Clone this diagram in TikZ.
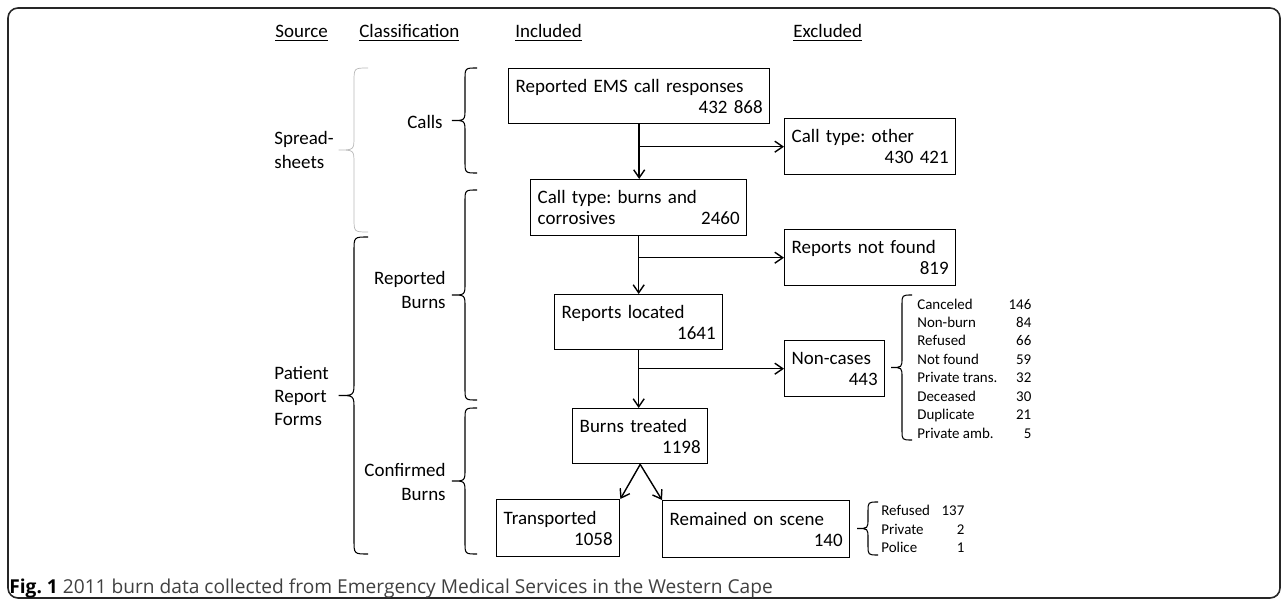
\documentclass[tikz,border=0pt]{standalone}
\usepackage{fontspec}
\setmainfont{Carlito}
\newfontfamily\capfont{Open Sans}
\usetikzlibrary{arrows.meta}
\frenchspacing

\newcommand{\lrow}[3]{\makebox[#1][l]{#2\hfill#3}}
% brace: [style] hook x, top y, bottom y, depth
\newcommand{\wbrace}[5][]{%
  \draw[brc,#1] (#2,#3) .. controls ({#2-#5},#3) .. ({#2-#5},{#3+#5})
    -- ({#2-#5},{(#3+#4)/2-#5}) .. controls ({#2-#5},{(#3+#4)/2}) .. ({#2-2.1*#5},{(#3+#4)/2})
    .. controls ({#2-#5},{(#3+#4)/2}) .. ({#2-#5},{(#3+#4)/2+#5})
    -- ({#2-#5},{#4-#5}) .. controls ({#2-#5},#4) .. (#2,#4);}

\begin{document}
\begin{tikzpicture}[x=0.02cm,y=-0.02cm,
    box/.style={draw, line width=0.8pt, anchor=north west, inner xsep=0.14cm, inner ysep=0pt, align=left, font=\fontsize{10.8}{11.9}\selectfont},
    arr/.style={-{Straight Barb[length=0.16cm,width=0.22cm]}, line width=0.8pt},
    brc/.style={line width=0.6pt},
    lbl/.style={font=\fontsize{10.8}{13.3}\selectfont, inner sep=0pt},
    hdr/.style={font=\fontsize{10.8}{13}\selectfont, anchor=west, inner sep=0pt},
    lst/.style={font=\fontsize{8.5}{10.5}\selectfont, inner sep=0pt, anchor=west, align=left}]

    \useasboundingbox (0,0) rectangle (1287,607);

    % Frame
    \draw[line width=0.9pt, black!85, rounded corners=0.2cm] (8,8) rectangle (1280,598);

    % Headers
    \node[hdr] (hsource) at (275,33) {\underline{Source}};
    \node[hdr] (hclass) at (359,33) {\underline{Classification}};
    \node[hdr] (hincl) at (515,33) {\underline{Included}};
    \node[hdr] (hexcl) at (793,33) {\underline{Excluded}};

    % Included boxes
    \node[box, text width=4.94cm, minimum height=1.1cm] (ems) at (508,68) {Reported EMS call responses\\\hspace*{\fill}432 868};
    \node[box, text width=4.04cm, minimum height=1.12cm] (burns) at (530,179) {Call type: burns and\\corrosives\hfill 2460};
    \node[box, text width=3.08cm, minimum height=1.1cm] (located) at (554,294) {Reports located\\\hspace*{\fill}1641};
    \node[box, text width=2.42cm, minimum height=1.1cm] (treated) at (572,408) {Burns treated\\\hspace*{\fill}1198};
    \node[box, text width=2.18cm, minimum height=1.14cm] (transported) at (496,499) {Transported\\\hspace*{\fill}1058};
    \node[box, text width=3.46cm, minimum height=1.14cm] (remained) at (662,500) {Remained on scene\\\hspace*{\fill}140};

    % Excluded boxes
    \node[box, text width=3.14cm, minimum height=1.12cm] (other) at (784,118) {Call type: other\\\hspace*{\fill}430 421};
    \node[box, text width=3.14cm, minimum height=1.12cm] (notfound) at (784,229) {Reports not found\\\hspace*{\fill}819};
    \node[box, text width=1.72cm, minimum height=1.12cm] (noncases) at (784,340) {Non-cases\\\hspace*{\fill}443};

    % Flow
    \draw[arr] (ems.south) -- (ems.south |- burns.north);
    \draw[arr] (ems.south |- other.west) -- (other.west);
    \draw[arr] (burns.south) -- (burns.south |- located.north);
    \draw[arr] (burns.south |- notfound.west) -- (notfound.west);
    \draw[arr] (located.south) -- (located.south |- treated.north);
    \draw[arr] (located.south |- noncases.west) -- (noncases.west);
    \draw[arr] (treated.south) -- (transported.north east);
    \draw[arr] (treated.south) -- (remained.north west);

    % Source braces
    \wbrace[gray!55, line width=0.4pt]{368}{68}{232}{14}
    \wbrace{368}{237}{554}{14}
    \node[lbl, anchor=west, align=left] (spread) at (274,150) {Spread-\\sheets};
    \node[lbl, anchor=west, align=left] (prf) at (274,396) {Patient\\Report\\Forms};

    % Classification braces
    \wbrace{477}{68}{173}{12}
    \wbrace{477}{190}{400}{12}
    \wbrace{477}{408}{554}{12}
    \node[lbl, anchor=east, align=right] (calls) at (443,122) {Calls};
    \node[lbl, anchor=east, align=right] (reported) at (446,290) {Reported\\Burns};
    \node[lbl, anchor=east, align=right] (confirmed) at (446,482) {Confirmed\\Burns};

    % Breakdowns
    \wbrace{912}{295}{440}{10}
    \node[lst] (nclist) at (917,368.5) {\lrow{2.28cm}{Canceled}{146}\\\lrow{2.28cm}{Non-burn}{84}\\\lrow{2.28cm}{Refused}{66}\\\lrow{2.28cm}{Not found}{59}\\\lrow{2.28cm}{Private trans.}{32}\\\lrow{2.28cm}{Deceased}{30}\\\lrow{2.28cm}{Duplicate}{21}\\\lrow{2.28cm}{Private amb.}{5}};
    \wbrace{878}{502}{555}{10}
    \node[lst] (rslist) at (881,529) {\lrow{1.66cm}{Refused}{137}\\\lrow{1.66cm}{Private}{2}\\\lrow{1.66cm}{Police}{1}};

    % Caption
    \node[anchor=west, inner sep=0pt, text=black!75, font=\capfont\fontsize{10.9}{12}\selectfont] (caption) at (9,588) {\textcolor{black}{\textbf{Fig. 1}} 2011 burn data collected from Emergency Medical Services in the Western Cape};

\end{tikzpicture}
\end{document}
